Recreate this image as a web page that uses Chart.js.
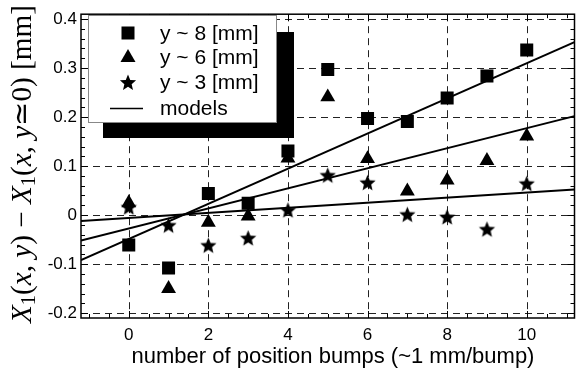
<!DOCTYPE html>
<html>
<head>
<meta charset="utf-8">
<script src="https://cdn.jsdelivr.net/npm/chart.js@4/dist/chart.umd.min.js"></script>
<style>
  html, body { margin: 0; padding: 0; background: #fff; }
  #wrap { width: 584px; height: 377px; }
</style>
</head>
<body>
<div id="wrap"><canvas id="grafico" width="584" height="377"></canvas></div>
<script>
// bump number (x) for every measured series
const bumps = [0, 1, 2, 3, 4, 5, 6, 7, 8, 9, 10];
const y8mm = [-0.061, -0.108, 0.044, 0.024, 0.131, 0.297, 0.197, 0.191, 0.239, 0.284, 0.337];
const y6mm = [0.025, -0.15, -0.015, -0.002, 0.116, 0.241, 0.115, 0.049, 0.071, 0.111, 0.161];
const y3mm = [0.017, -0.02, -0.061, -0.046, 0.011, 0.082, 0.067, 0.002, -0.003, -0.028, 0.065];

// model lines, read at the two edges of the plot
const modelX = [-1.2, 11.2];
const model8 = [-0.092, 0.353];
const model6 = [-0.052, 0.202];
const model3 = [-0.012, 0.052];

const seriesNames = ["y ~ 8 [mm]", "y ~ 6 [mm]", "y ~ 3 [mm]", "models"];
const xTitle = "number of position bumps (~1 mm/bump)";

function pts(xs, ys) {
  return xs.map((x, i) => ({ x: x, y: ys[i] }));
}

function starPath(g, cx, cy, r) {
  g.beginPath();
  for (let i = 0; i < 10; i++) {
    const a = -Math.PI / 2 + i * Math.PI / 5;
    const rr = i % 2 ? r * 0.45 : r;
    g.lineTo(cx + rr * Math.cos(a), cy + rr * Math.sin(a));
  }
  g.closePath();
}

function makeStar(r) {
  const c = document.createElement("canvas");
  const s = Math.ceil(r * 2 + 2);
  c.width = s; c.height = s;
  const g = c.getContext("2d");
  g.fillStyle = "#000";
  starPath(g, s / 2, s / 2 + 1, r);
  g.fill();
  return c;
}
const starImg = makeStar(8.5);

function modelSet(ys) {
  return {
    type: "line",
    data: pts(modelX, ys),
    borderColor: "#000",
    borderWidth: 2,
    pointRadius: 0,
    showLine: true,
    fill: false,
    tension: 0
  };
}

const decor = {
  id: "decor",
  beforeDatasetsDraw(chart) {
    const { ctx, chartArea: a, scales: { x, y } } = chart;
    ctx.save();
    ctx.strokeStyle = "#222";
    ctx.lineWidth = 1;
    ctx.setLineDash([7, 5]);
    for (let v = 0; v <= 10; v += 2) {
      const px = Math.round(x.getPixelForValue(v)) + 0.5;
      ctx.beginPath(); ctx.moveTo(px, a.top); ctx.lineTo(px, a.bottom); ctx.stroke();
    }
    for (let k = -2; k <= 4; k++) {
      const py = Math.round(y.getPixelForValue(k / 10)) + 0.5;
      ctx.beginPath(); ctx.moveTo(a.left, py); ctx.lineTo(a.right, py); ctx.stroke();
    }
    ctx.restore();
  },
  afterDatasetsDraw(chart) {
    const { ctx, chartArea: a, scales: { x, y } } = chart;
    ctx.save();
    ctx.strokeStyle = "#000";
    ctx.lineWidth = 1.5;
    ctx.strokeRect(a.left, a.top, a.right - a.left, a.bottom - a.top);

    // tick marks, pointing inward on all four sides
    ctx.lineWidth = 1;
    for (let k = -4; k <= 45; k++) {
      const v = k * 0.5;
      if (v < -1.2 || v > 11.2) continue;
      const len = (k % 4 === 0) ? 7 : 4;
      const px = Math.round(x.getPixelForValue(v)) + 0.5;
      ctx.beginPath();
      ctx.moveTo(px, a.bottom); ctx.lineTo(px, a.bottom - len);
      ctx.moveTo(px, a.top); ctx.lineTo(px, a.top + len);
      ctx.stroke();
    }
    for (let k = -10; k <= 20; k++) {
      const v = k * 0.02;
      const len = (k % 5 === 0) ? 7 : 4;
      const py = Math.round(y.getPixelForValue(v)) + 0.5;
      ctx.beginPath();
      ctx.moveTo(a.left, py); ctx.lineTo(a.left + len, py);
      ctx.moveTo(a.right, py); ctx.lineTo(a.right - len, py);
      ctx.stroke();
    }
    ctx.restore();

    // legend box with its black shadow
    ctx.save();
    ctx.fillStyle = "#000";
    ctx.fillRect(103, 32, 191, 106);
    ctx.fillStyle = "#fff";
    ctx.fillRect(88, 15, 189, 108);
    ctx.strokeStyle = "#888";
    ctx.lineWidth = 1;
    ctx.strokeRect(88.5, 15.5, 188, 107);

    const mx = 128;
    const rows = [33, 57, 82, 108];
    ctx.fillStyle = "#000";
    ctx.fillRect(mx - 6.5, rows[0] - 6.5, 13, 13);
    ctx.beginPath();
    ctx.moveTo(mx, rows[1] - 8); ctx.lineTo(mx + 7.5, rows[1] + 5); ctx.lineTo(mx - 7.5, rows[1] + 5);
    ctx.closePath(); ctx.fill();
    starPath(ctx, mx, rows[2] + 1, 8.5); ctx.fill();
    ctx.strokeStyle = "#000"; ctx.lineWidth = 1.5;
    ctx.beginPath(); ctx.moveTo(110, rows[3] + 0.5); ctx.lineTo(143, rows[3] + 0.5); ctx.stroke();

    ctx.font = "21px 'Liberation Sans', Arial, sans-serif";
    ctx.textBaseline = "middle";
    ctx.textAlign = "left";
    seriesNames.forEach((n, i) => ctx.fillText(n, 160, rows[i] + 1));
    ctx.restore();

    // axis titles
    ctx.save();
    ctx.fillStyle = "#000";
    ctx.font = "22px 'Liberation Sans', Arial, sans-serif";
    ctx.textAlign = "center";
    ctx.textBaseline = "alphabetic";
    ctx.fillText(xTitle, 333, 363);
    ctx.restore();

    drawYTitle(ctx);
  }
};

function drawYTitle(ctx) {
  const segs = [
    ["X", 1], ["1", 0, 1], ["(", 0], ["x", 1], [", ", 0], ["y", 1], [")", 0],
    [" \u2212 ", 0],
    ["X", 1], ["1", 0, 1], ["(", 0], ["x", 1], [", ", 0], ["y", 1], ["\u22430", 0], [")", 0],
    [" [mm]", 0]
  ];
  const base = 24;
  const fontFor = (s, sz) => (s[1] ? "italic " : "") + sz + "px 'Liberation Serif', 'DejaVu Serif', serif";
  ctx.save();
  let w = 0;
  segs.forEach(s => { ctx.font = fontFor(s, s[2] ? base * 0.7 : base); w += ctx.measureText(s[0]).width; });
  const size = base * 318 / w;
  ctx.translate(23, 164);
  ctx.rotate(-Math.PI / 2);
  ctx.fillStyle = "#000";
  ctx.textBaseline = "alphabetic";
  ctx.textAlign = "left";
  let pos = -318 / 2;
  segs.forEach(s => {
    const sz = s[2] ? size * 0.7 : size;
    ctx.font = fontFor(s, sz);
    ctx.fillText(s[0], pos, s[2] ? 8 + size * 0.15 : 8);
    pos += ctx.measureText(s[0]).width;
  });
  ctx.restore();
}

const tickFont = { family: "'Liberation Sans', Arial, sans-serif", size: 17 };

new Chart(document.getElementById("grafico").getContext("2d"), {
  type: "scatter",
  data: {
    datasets: [
      { label: seriesNames[0], data: pts(bumps, y8mm), pointStyle: "rect", pointRadius: 9.2, pointBorderWidth: 0, backgroundColor: "#000", borderColor: "#000" },
      { label: seriesNames[1], data: pts(bumps, y6mm), pointStyle: "triangle", pointRadius: 8.6, pointBorderWidth: 0, backgroundColor: "#000", borderColor: "#000" },
      { label: seriesNames[2], data: pts(bumps, y3mm), pointStyle: starImg, pointRadius: 8.5, backgroundColor: "#000", borderColor: "#000" },
      modelSet(model8),
      modelSet(model6),
      modelSet(model3)
    ]
  },
  options: {
    responsive: false,
    animation: false,
    devicePixelRatio: 1,
    layout: { padding: { top: 7, left: 0, right: 0, bottom: 0 } },
    plugins: { legend: { display: false }, tooltip: { enabled: false } },
    scales: {
      x: {
        type: "linear",
        min: -1.2,
        max: 11.2,
        grid: { display: false, drawTicks: false },
        border: { display: false },
        ticks: { stepSize: 2, includeBounds: false, color: "#000", font: tickFont, padding: 7, maxRotation: 0 },
        afterFit(s) { s.height = 59; }
      },
      y: {
        min: -0.21,
        max: 0.41,
        grid: { display: false, drawTicks: false },
        border: { display: false },
        ticks: {
          stepSize: 0.1, includeBounds: false, color: "#000", font: tickFont, padding: 4,
          callback: v => String(Math.round(v * 10) / 10)
        },
        afterFit(s) { s.width = 81; }
      }
    }
  },
  plugins: [decor]
});
</script>
</body>
</html>
